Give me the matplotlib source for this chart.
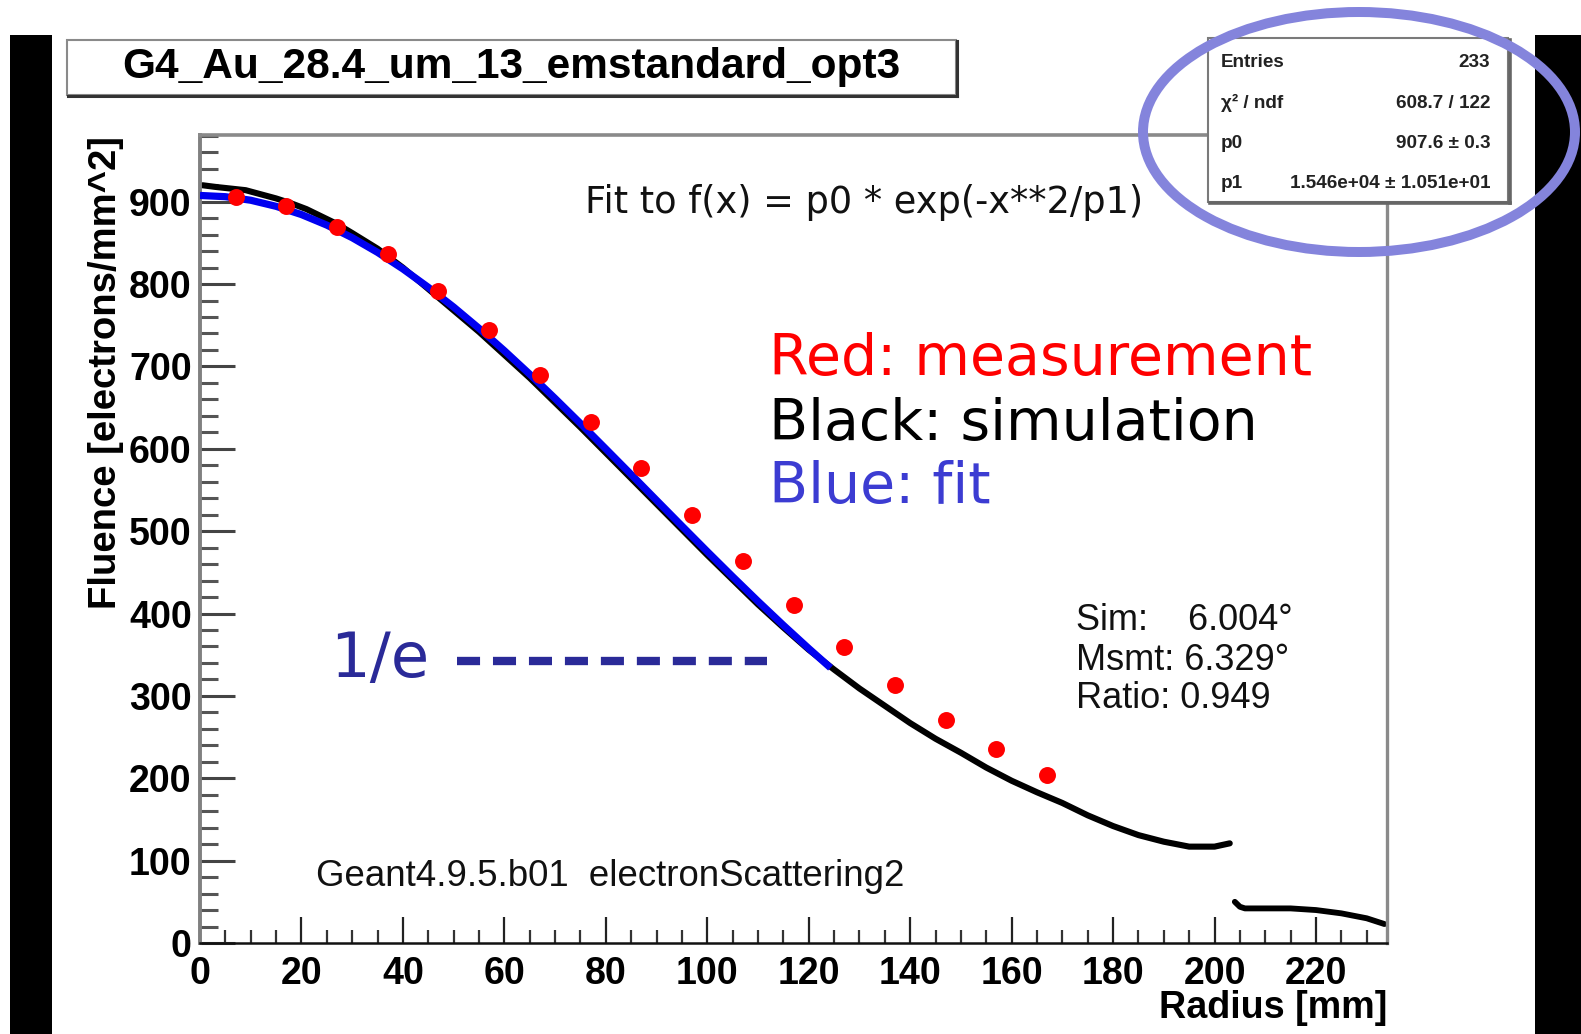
import matplotlib
matplotlib.use('Agg')
import matplotlib.pyplot as plt
from matplotlib.transforms import Affine2D
from matplotlib.patches import Rectangle, Ellipse
from matplotlib.lines import Line2D
from matplotlib.ticker import MultipleLocator

plt.rcParams['lines.scale_dashes'] = False

# ---------------- data ----------------
meas_x = [7, 17, 27, 37, 47, 57, 67, 77, 87, 97, 107, 117, 127, 137, 147, 157, 167]
meas_y = [906, 895, 869, 836, 792, 744, 690, 633, 577, 520, 464, 410, 359, 313, 271, 235, 204]

sim_x = [0.5, 3, 6, 9, 12, 15, 18, 21, 24, 27, 30, 35, 40, 45, 50, 55, 60, 65, 70,
         75, 80, 85, 90, 95, 100, 105, 110, 115, 120, 125, 130, 135, 140, 145,
         150, 155, 160, 165, 170, 175, 180, 185, 190, 195, 200, 203]
sim_y = [920, 918, 916, 914, 909, 904, 898, 891, 882, 873, 862, 843, 820, 794, 768,
         742, 714, 686, 656, 626, 595, 564, 533, 502, 471, 441, 411, 383, 356, 332,
         309, 288, 267, 248, 231, 213, 197, 183, 170, 155, 142, 131, 123, 117, 117, 121]

sim2_x = [204, 205, 206, 210, 215, 220, 225, 230, 233.5]
sim2_y = [50, 44, 42, 42, 42, 40, 36, 30, 23]

fit_x = [0, 5, 10, 15, 20, 25, 30, 35, 40, 45, 50, 55, 60, 65, 70, 75, 80, 85,
         90, 95, 100, 105, 110, 115, 120, 124.3]
fit_y = [907.6, 906.1, 901.8, 894.4, 884.4, 871.6, 856.3, 838.5, 818.4, 796.1,
         772.1, 746.3, 719.1, 690.6, 661.1, 630.8, 599.9, 568.8, 537.5, 506.3,
         475.3, 444.8, 414.9, 385.8, 357.6, 334.1]

title = "G4_Au_28.4_um_13_emstandard_opt3"
stats_labels = ["Entries", "χ² / ndf", "p0", "p1"]
stats_values = ["233", "608.7 / 122", "907.6 ± 0.3", "1.546e+04 ± 1.051e+01"]

# ---------------- figure ----------------
W, H = 1581, 1034
fig = plt.figure(figsize=(W / 100, H / 100), dpi=100)
fig.patch.set_facecolor('white')
pix = Affine2D().scale(1 / W, -1 / H).translate(0, 1) + fig.transFigure

# black side bars
fig.add_artist(Rectangle((10, 35), 42, 1010, transform=pix, facecolor='black',
                         edgecolor='none', zorder=0.5))
fig.add_artist(Rectangle((1535, 35), 50, 1010, transform=pix, facecolor='black',
                         edgecolor='none', zorder=0.5))

ax = fig.add_axes([200 / W, (H - 943) / H, 1187 / W, 808 / H])
ax.set_xlim(0, 234)
ax.set_ylim(0, 981)

ax.plot(sim_x, sim_y, color='black', lw=4.4, solid_capstyle='round',
        solid_joinstyle='round', zorder=2)
ax.plot(sim2_x, sim2_y, color='black', lw=4.2, solid_capstyle='round',
        solid_joinstyle='round', zorder=2)
ax.plot(fit_x, fit_y, color='#0000f0', lw=5.2, solid_capstyle='butt',
        solid_joinstyle='round', zorder=3)
ax.plot(meas_x, meas_y, 'o', color='#ff0000', ms=12.2, mec='none', zorder=4)

# spines
ax.spines['left'].set_color('#808080')
ax.spines['left'].set_linewidth(2.8)
ax.spines['bottom'].set_color('#111111')
ax.spines['bottom'].set_linewidth(1.8)
ax.spines['top'].set_color('#8a8a8a')
ax.spines['top'].set_linewidth(2.6)
ax.spines['right'].set_color('#8a8a8a')
ax.spines['right'].set_linewidth(2.4)

ax.xaxis.set_major_locator(MultipleLocator(20))
ax.xaxis.set_minor_locator(MultipleLocator(5))
ax.yaxis.set_major_locator(MultipleLocator(100))
ax.yaxis.set_minor_locator(MultipleLocator(20))
ax.tick_params(axis='y', which='major', direction='in', length=25, width=2.2,
               color='#444444', pad=6, left=True, right=False)
ax.tick_params(axis='y', which='minor', direction='in', length=13, width=2.2,
               color='#555555', left=True, right=False)
ax.tick_params(axis='x', which='major', direction='in', length=19, width=1.6,
               color='#222222', pad=9, bottom=True, top=False)
ax.tick_params(axis='x', which='minor', direction='in', length=9.5, width=1.6,
               color='#333333', bottom=True, top=False)
for lab in ax.get_xticklabels() + ax.get_yticklabels():
    lab.set_fontfamily('Liberation Sans')
    lab.set_fontweight('bold')
    lab.set_fontsize(27)

# axis titles
fig.text(106, 373, "Fluence [electrons/mm^2]", transform=pix, rotation=90,
         ha='center', va='center', family='Liberation Sans', weight='bold', fontsize=27.5)
fig.text(1387, 1018, "Radius [mm]", transform=pix, ha='right', va='baseline',
         family='Liberation Sans', weight='bold', fontsize=27.2)

# title box
fig.add_artist(Rectangle((67, 40), 889, 55, transform=pix, facecolor='white',
                         edgecolor='#8a8a8a', lw=1.5, zorder=1))
fig.add_artist(Line2D([68, 957], [96, 96], transform=pix, color='#333333', lw=2.2, zorder=2))
fig.add_artist(Line2D([957, 957], [41, 96], transform=pix, color='#333333', lw=2.2, zorder=2))
fig.text(511, 67, title, transform=pix, ha='center', va='center',
         family='Liberation Sans', weight='bold', fontsize=30.5)

# stats box
fig.add_artist(Rectangle((1208, 38), 300, 164, transform=pix, facecolor='white',
                         edgecolor='#7a7a7a', lw=1.5, zorder=1))
fig.add_artist(Line2D([1210, 1510], [203, 203], transform=pix, color='#666666', lw=2.6, zorder=2))
fig.add_artist(Line2D([1509.5, 1509.5], [40, 203], transform=pix, color='#666666', lw=2.6, zorder=2))
for i, (lb, vl) in enumerate(zip(stats_labels, stats_values)):
    yb = 67 + i * 40.5
    fig.text(1221, yb, lb, transform=pix, ha='left', va='baseline',
             family='Liberation Sans', weight='bold', fontsize=13.6, color='#222222')
    fig.text(1490, yb, vl, transform=pix, ha='right', va='baseline',
             family='Liberation Sans', weight='bold', fontsize=13.6, color='#222222')

# annotations
fig.text(585, 213, "Fit to f(x) = p0 * exp(-x**2/p1)", transform=pix, ha='left',
         va='baseline', family='DejaVu Sans', fontsize=26.5, color='#111111')
fig.text(769, 375, "Red: measurement", transform=pix, ha='left', va='baseline',
         family='DejaVu Sans', fontsize=41, color='#ff0000')
fig.text(769, 440, "Black: simulation", transform=pix, ha='left', va='baseline',
         family='DejaVu Sans', fontsize=41, color='#000000')
fig.text(769, 503, "Blue: fit", transform=pix, ha='left', va='baseline',
         family='DejaVu Sans', fontsize=41, color='#3c3cd2')

fig.text(330, 677, "1/e", transform=pix, ha='left', va='baseline',
         family='DejaVu Sans', fontsize=45, color='#2a2a98')
fig.add_artist(Line2D([457, 767], [661, 661], transform=pix, color='#2a2a98', lw=6,
                      dashes=(16.6, 9.3), dash_capstyle='butt', zorder=2))

for txt, yb in [("Sim:    6.004°", 630), ("Msmt: 6.329°", 670), ("Ratio: 0.949", 708)]:
    fig.text(1076, yb, txt, transform=pix, ha='left', va='baseline',
             family='Liberation Sans', fontsize=26, color='#111111')

fig.text(316, 886, "Geant4.9.5.b01  electronScattering2", transform=pix, ha='left',
         va='baseline', family='Liberation Sans', fontsize=26.4, color='#111111')

# highlight ellipse
fig.add_artist(Ellipse((1359, 132), 432, 240, transform=pix, facecolor='none',
                       edgecolor='#8484dc', lw=7.2, zorder=5))

fig.savefig('out.png', dpi=100)
